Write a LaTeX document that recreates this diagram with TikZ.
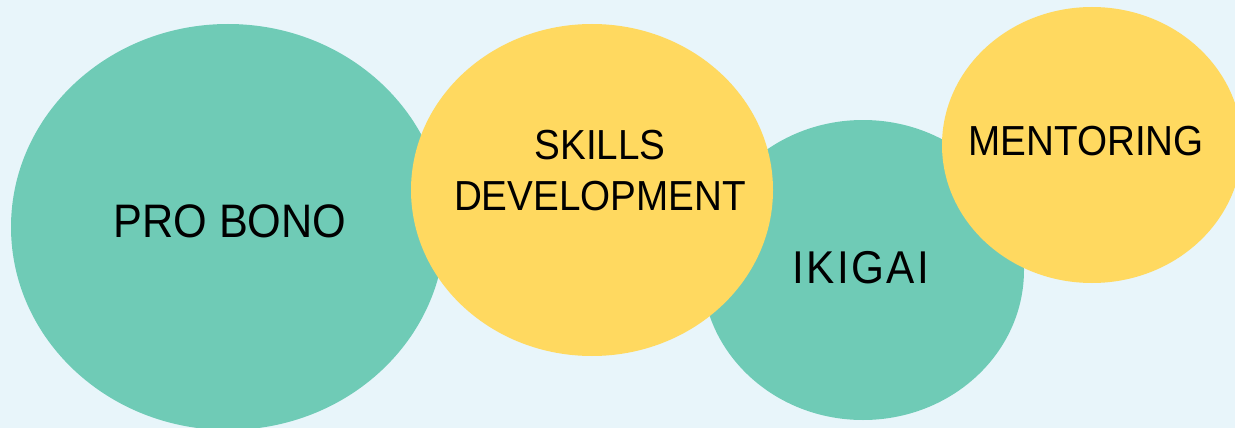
\documentclass[tikz,border=0pt]{standalone}
\usepackage{fontspec}
\setmainfont[FakeStretch=0.92]{Liberation Sans}
\usetikzlibrary{shapes.geometric}
\definecolor{bgblue}{HTML}{E8F5FA}
\definecolor{teal}{HTML}{6FCBB6}
\definecolor{sun}{HTML}{FFD960}
\tikzset{
  blob/.style={ellipse, inner sep=0pt, draw=none},
  tealblob/.style={blob, fill=teal},
  sunblob/.style={blob, fill=sun},
  lbl/.style={inner sep=0pt, text=black, align=center}
}
\begin{document}
\begin{tikzpicture}[x=1pt,y=-1pt]
\useasboundingbox (0,0) rectangle (1235,428);
\fill[bgblue] (0,0) rectangle (1235,428);
\clip (0,0) rectangle (1235,428);
\node[tealblob, minimum width=434pt, minimum height=406pt] (pb) at (228,227) {};
\node[tealblob, minimum width=322pt, minimum height=300pt] (ik) at (863,270) {};
\node[sunblob, minimum width=362pt, minimum height=332pt] (sd) at (592,190) {};
\node[sunblob, minimum width=300pt, minimum height=276pt] (me) at (1092,145) {};
\node[lbl, font=\fontsize{47}{56}\selectfont] (pbt) at (230,221) {PRO BONO};
\node[lbl, font=\fontsize{42}{51}\selectfont] (sdt) at (600,170.5) {SKILLS\\DEVELOPMENT};
\node[lbl, font=\fontsize{46}{55}\selectfont\addfontfeature{LetterSpace=5}] (ikt) at (861,267.5) {IKIGAI};
\node[lbl, font=\fontsize{42}{51}\selectfont] (met) at (1086,141) {MENTORING};
\end{tikzpicture}
\end{document}
